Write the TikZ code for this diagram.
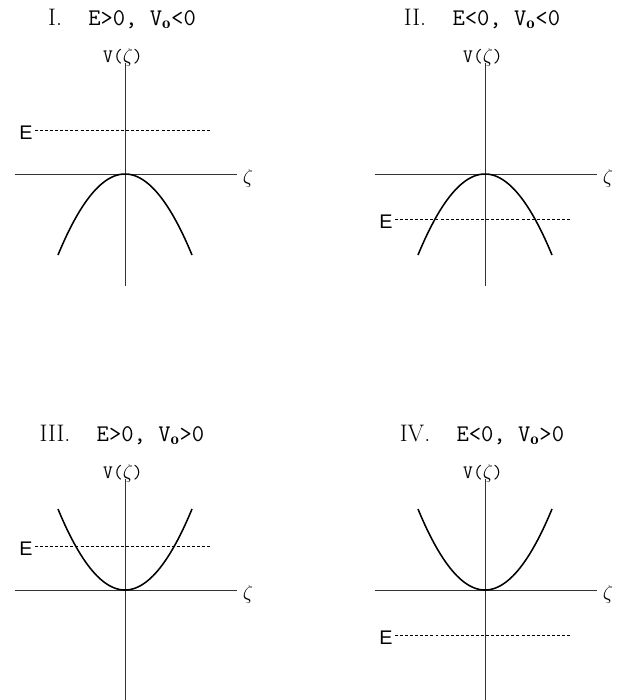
\documentclass[tikz,border=0pt]{standalone}
\usepackage{amsmath}
\usepackage{fontspec}
\newfontfamily\labelsans{Liberation Sans}
\usetikzlibrary{positioning}

\begin{document}
\begin{tikzpicture}[x=0.025cm,y=-0.025cm,
  axis/.style={black!80,line width=0.6pt},
  curve/.style={line width=1.1pt},
  level/.style={line width=0.6pt,dash pattern=on 2.1pt off 1.5pt},
  ttl/.style={font=\fontsize{17}{20}\selectfont\ttfamily\addfontfeature{FakeBold=0.6},inner sep=0pt},
  vlbl/.style={font=\fontsize{13.5}{16}\selectfont\ttfamily\addfontfeature{FakeBold=0.5},inner sep=0pt},
  zlbl/.style={font=\fontsize{14}{16}\selectfont,inner sep=0pt},
  elbl/.style={font=\fontsize{14}{16}\selectfont\labelsans,inner sep=0pt}]
  \useasboundingbox (0,0) rectangle (628,700);
  % four cases: shift x / shift y / numeral / E sign / V_o sign / curve sign / E level
  \foreach \px/\py/\num/\es/\vs/\crv/\elev [count=\n] in
    {0/0/I./>/</1/-44, 360/0/II./</</1/45,
     0/416/III./>/>/-1/-44, 360/416/IV./</>/-1/45}
  {
  \begin{scope}[shift={(\px+125,\py+174)}]
    % axes
    \coordinate (vtop\n) at (0,-111);
    \coordinate (vbot\n) at (0,112);
    \coordinate (hl\n) at (-110,0);
    \coordinate (hr\n) at (112,0);
    \draw[axis] (vtop\n) -- (vbot\n);
    \draw[axis] (hl\n) -- (hr\n);
    \node[zlbl,right=4pt of hr\n,yshift=-3pt] (zeta\n) {$\zeta$};
    \node[vlbl] (vz\n) at (-2,-117) {V($\zeta$)};
    % case title
    \node[ttl] (title\n) at (-3,-155)
      {{\rmfamily\num}\hspace{1.1em}E\es0, V$_{\mathbf{o}}$\vs0};
    % potential
    \draw[curve] plot[domain=-67:67,samples=60] (\x,{\crv*81*(\x/67)^2});
    % energy level
    \coordinate (ell\n) at (-90,\elev);
    \coordinate (elr\n) at (87,\elev);
    \draw[level] (ell\n) -- (elr\n);
    \node[elbl,left=1.5pt of ell\n,yshift=-2pt] (E\n) {E};
  \end{scope}
  }
\end{tikzpicture}
\end{document}
